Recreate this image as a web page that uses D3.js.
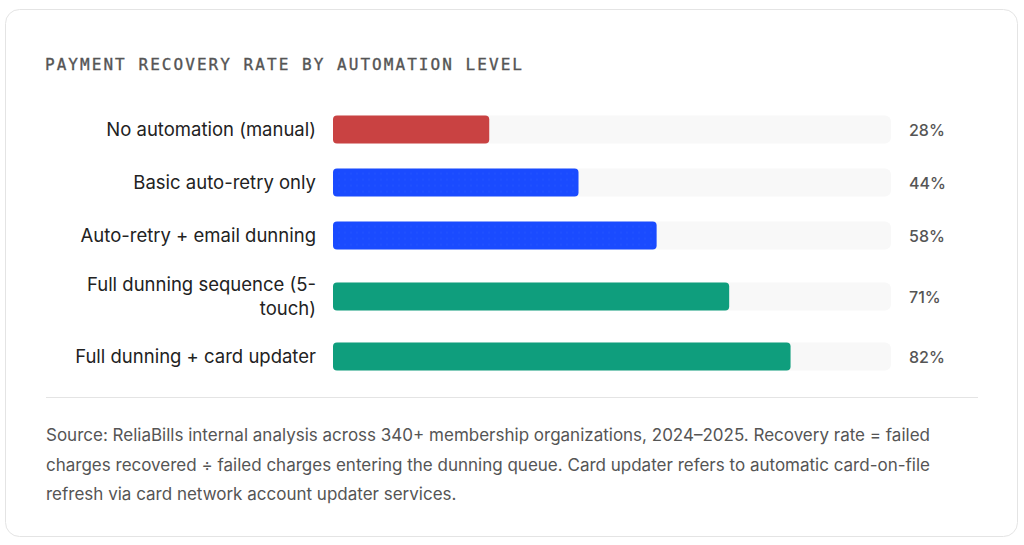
<!DOCTYPE html>
<html>
<head>
<meta charset="utf-8">
<script src="https://cdn.jsdelivr.net/npm/d3@7"></script>
<style>
  html, body { margin: 0; padding: 0; background: #fff; }
  svg { display: block; }
</style>
</head>
<body>
<svg id="chart" width="1024" height="545"></svg>
<script>
// Chart data
const categories = [
  "No automation (manual)",
  "Basic auto-retry only",
  "Auto-retry + email dunning",
  "Full dunning sequence (5-touch)",
  "Full dunning + card updater"
];
const values = [28, 44, 58, 71, 82];
const tiers = ["none", "basic", "basic", "full", "full"];
const tierColors = { none: "#c94242", basic: "#1a4bff", full: "#0f9e7d" };
const titleText = "PAYMENT RECOVERY RATE BY AUTOMATION LEVEL";
const footnoteLines = [
  "Source: ReliaBills internal analysis across 340+ membership organizations, 2024\u20132025. Recovery rate = failed",
  "charges recovered \u00f7 failed charges entering the dunning queue. Card updater refers to automatic card-on-file",
  "refresh via card network account updater services."
];

const svg = d3.select("#chart");

// Card frame
svg.append("rect")
  .attr("x", 5.5).attr("y", 9.5)
  .attr("width", 1012).attr("height", 527)
  .attr("rx", 14)
  .attr("fill", "#fff")
  .attr("stroke", "#e4e4e4");

// Title (regular mono with a hairline stroke, reads as medium weight)
svg.append("text")
  .attr("x", 45).attr("y", 70)
  .attr("font-family", "'DejaVu Sans Mono', monospace")
  .attr("font-size", 16)
  .attr("letter-spacing", "2.05px")
  .attr("fill", "#555")
  .attr("stroke", "#555")
  .attr("stroke-width", 0.35)
  .text(titleText);

// faint dot texture used on the blue bars
const defs = svg.append("defs");
const pat = defs.append("pattern")
  .attr("id", "dots").attr("width", 6).attr("height", 6)
  .attr("patternUnits", "userSpaceOnUse");
pat.append("rect").attr("width", 6).attr("height", 6).attr("fill", tierColors.basic);
pat.append("circle").attr("cx", 3).attr("cy", 3).attr("r", 0.5).attr("fill", "#fff").attr("opacity", 0.12);

const x = d3.scaleLinear().domain([0, 100]).range([333, 891]);

const labelRight = 316;
const labelMaxWidth = 250;
const labelSize = 18.5;
const lineHeight = 22;   // layout height per label line
const lineSpacing = 24;  // baseline distance inside a wrapped label
const barHeight = 28;
const rowGap = 25;

// Split a label into lines that fit, allowing breaks after spaces and hyphens
function wrapLabel(text) {
  const probe = svg.append("text")
    .attr("font-family", "Inter, sans-serif")
    .attr("font-size", labelSize);
  const pieces = text.split(/(?<=-)|(?<=\s)/);
  const lines = [];
  let cur = "";
  pieces.forEach(p => {
    const trial = cur + p;
    probe.text(trial.trimEnd());
    if (cur && probe.node().getComputedTextLength() > labelMaxWidth) {
      lines.push(cur.trimEnd());
      cur = p;
    } else {
      cur = trial;
    }
  });
  if (cur) lines.push(cur.trimEnd());
  probe.remove();
  return lines;
}

// Lay out rows top to bottom
let yCursor = 115.5;
const rows = categories.map((c, i) => {
  const lines = wrapLabel(c);
  const h = Math.max(barHeight, lines.length * lineHeight);
  const row = { label: c, lines, value: values[i], tier: tiers[i], center: yCursor + h / 2 };
  yCursor += h + rowGap - (lines.length > 1 ? 1 : 0);
  return row;
});

const g = svg.append("g");

const row = g.selectAll("g.row")
  .data(rows)
  .enter().append("g")
  .attr("class", "row")
  .attr("transform", d => `translate(0,${d.center})`);

// background track
row.append("rect")
  .attr("x", x(0))
  .attr("y", -barHeight / 2)
  .attr("width", x(100) - x(0))
  .attr("height", barHeight)
  .attr("rx", 6)
  .attr("fill", "#f8f8f8");

// value bar
row.append("rect")
  .attr("x", x(0))
  .attr("y", -barHeight / 2)
  .attr("width", d => x(d.value) - x(0))
  .attr("height", barHeight)
  .attr("rx", 4)
  .attr("fill", d => d.tier === "basic" ? "url(#dots)" : tierColors[d.tier]);

// category label
const label = row.append("text")
  .attr("text-anchor", "end")
  .attr("font-family", "Inter, sans-serif")
  .attr("font-size", labelSize)
  .attr("fill", "#222");

label.selectAll("tspan")
  .data(d => d.lines.map((l, j) => ({ l, j, n: d.lines.length })))
  .enter().append("tspan")
  .attr("x", labelRight)
  .attr("y", d => (d.j - (d.n - 1) / 2) * lineSpacing + 6.5)
  .text(d => d.l);

// value text
row.append("text")
  .attr("x", 909)
  .attr("y", 6)
  .attr("font-family", "Inter, sans-serif")
  .attr("font-size", 16)
  .attr("font-weight", 500)
  .attr("fill", "#555")
  .text(d => d.value + "%");

// separator
svg.append("line")
  .attr("x1", 46).attr("x2", 978)
  .attr("y1", 397.5).attr("y2", 397.5)
  .attr("stroke", "#e4e4e4");

// footnote
svg.append("g")
  .selectAll("text")
  .data(footnoteLines)
  .enter().append("text")
  .attr("x", 46)
  .attr("y", (d, i) => 441 + i * 29.5)
  .attr("font-family", "Inter, sans-serif")
  .attr("font-size", 17)
  .attr("fill", "#555")
  .text(d => d);
</script>
</body>
</html>
